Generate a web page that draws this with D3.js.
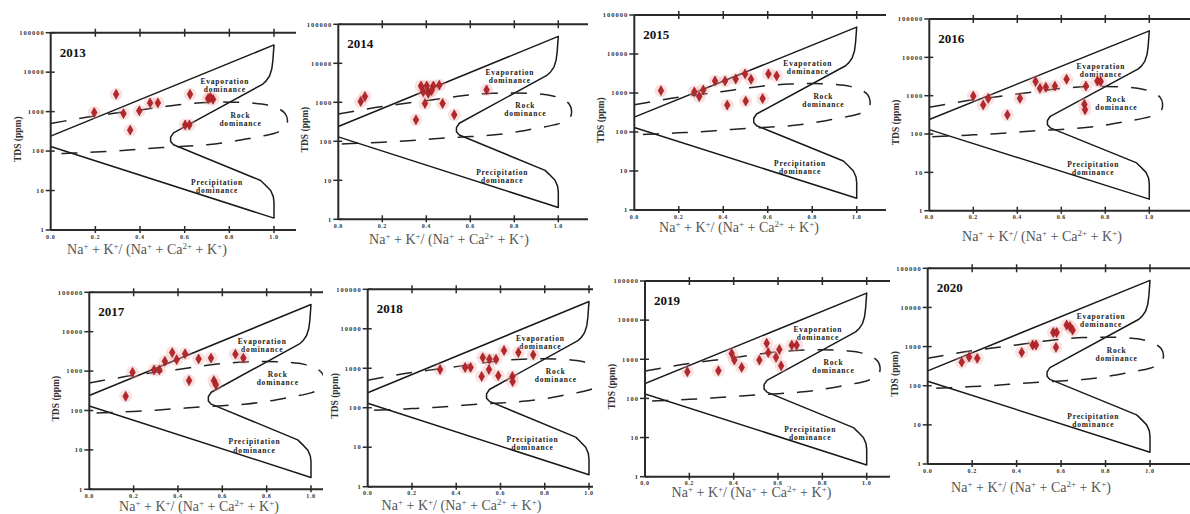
<!DOCTYPE html>
<html><head><meta charset="utf-8">
<script src="https://cdn.jsdelivr.net/npm/d3@7"></script>
<style>body{margin:0;background:#fff}svg{display:block}</style>
</head><body>
<svg id="c" width="1190" height="514"></svg>
<script>
// ---------- data ----------
const years = ["2013","2014","2015","2016","2017","2018","2019","2020"];
const xTicks = [0, 0.2, 0.4, 0.6, 0.8, 1.0];
const xTickLabels = ["0.0","0.2","0.4","0.6","0.8","1.0"];
const yTicks = [1, 10, 100, 1000, 10000, 100000];
const yTickLabels = ["1","10","100","1000","10000","100000"];

// [Na+K/(Na+Ca+K), TDS ppm]
const pts2013 = [[0.195,950],[0.293,2750],[0.326,890],[0.356,340],[0.397,1050],[0.445,1660],[0.48,1660],[0.624,2750],[0.602,460],[0.621,460],[0.705,2140],[0.727,2040],[0.715,2300]];
const pts2014 = [[0.102,1050],[0.121,1410],[0.353,355],[0.376,2630],[0.402,2630],[0.432,2630],[0.459,2750],[0.386,1860],[0.409,1700],[0.424,2000],[0.394,930],[0.474,930],[0.527,480],[0.674,2090]];
const pts2015 = [[0.12,1150],[0.27,1070],[0.292,810],[0.31,1200],[0.363,2040],[0.408,2040],[0.456,2290],[0.498,3090],[0.525,2240],[0.603,3090],[0.64,2750],[0.418,490],[0.501,620],[0.577,720]];
const pts2016 = [[0.2,980],[0.245,575],[0.268,850],[0.355,316],[0.412,850],[0.483,2340],[0.503,1550],[0.53,1660],[0.571,1780],[0.624,2690],[0.712,1780],[0.764,2400],[0.779,2340],[0.705,600],[0.708,430]];
const pts2017 = [[0.195,930],[0.164,230],[0.292,1070],[0.316,1070],[0.341,1780],[0.374,2950],[0.394,1950],[0.432,2750],[0.45,575],[0.493,2040],[0.549,2140],[0.562,575],[0.571,450],[0.659,2690],[0.695,2140]];
const pts2018 = [[0.327,930],[0.44,1050],[0.465,1050],[0.52,1860],[0.55,1700],[0.58,1700],[0.548,930],[0.515,620],[0.59,650],[0.616,2820],[0.681,2510],[0.748,2190],[0.654,620],[0.655,460]];
const pts2019 = [[0.191,480],[0.331,510],[0.391,1410],[0.403,955],[0.436,620],[0.516,955],[0.549,2570],[0.556,1480],[0.591,1120],[0.606,1780],[0.614,680],[0.662,2290],[0.684,2290]];
const pts2020 = [[0.153,400],[0.186,540],[0.223,500],[0.423,710],[0.472,1100],[0.487,1100],[0.565,2290],[0.58,2290],[0.577,955],[0.625,3550],[0.64,3240],[0.652,2630]];
const pointsByYear = [pts2013, pts2014, pts2015, pts2016, pts2017, pts2018, pts2019, pts2020];

// Gibbs boundary (outer envelope) and dashed rock-dominance boundary
const gibbsOuter = [[0,240],[1.0,49000],[0.995,20000],[0.99,12000],[0.98,8000],[0.965,6000],[0.95,5000],
  [0.55,290],[0.537,225],[0.537,175],[0.55,145],[0.94,18],[0.96,14],[0.985,10],[0.997,7],[1.0,5],[1.0,2],[0,130]];
const gibbsDashed = [[0,500],[0.1,630],[0.2,780],[0.3,930],[0.4,1100],[0.5,1320],[0.6,1550],[0.7,1700],[0.8,1740],
  [0.9,1660],[0.97,1480],[1.02,1200],[1.05,890],[1.06,630],[1.055,420],[1.03,330],[1.0,280],[0.9,215],[0.8,170],
  [0.7,145],[0.6,132],[0.5,123],[0.4,112],[0.3,102],[0.2,95],[0.1,89],[0,85]];
const regionText = [["Evaporation","dominance"],["Rock","dominance"],["Precipitation","dominance"]];
const regionAnchor = [[0.78,5800,3600],[0.85,820,510],[0.745,16,10]];

// ---------- layout (pixel geometry of each cropped panel) ----------
const layout = [
  {left:50.7, top:32.7, bottom:230,  x1:274,   clip:296, tx:147,  ty:254},
  {left:338.3,top:24.3, bottom:219.3,x1:558.3, clip:588, tx:449,  ty:244},
  {left:634.3,top:15,   bottom:210,  x1:856.7, clip:886, tx:739,  ty:232},
  {left:929.3,top:19,   bottom:210.7,x1:1149.3,clip:1190,tx:1042, ty:241},
  {left:89.3, top:292.3,bottom:489.3,x1:311,   clip:323, tx:199,  ty:511},
  {left:367.7,top:289.3,bottom:486.7,x1:589,   clip:593, tx:461.5,ty:510},
  {left:645,  top:281,  bottom:476.7,x1:866.7, clip:890, tx:751.5,ty:497},
  {left:927.7,top:268.3,bottom:464,  x1:1150,  clip:1190,tx:1031, ty:492}
];

const svg = d3.select("#c");
const serif = "'Liberation Serif','Times New Roman',serif";
const defs = svg.append("defs");

years.forEach((yr, i) => {
  const L = layout[i];
  const x = d3.scaleLinear().domain([0,1]).range([L.left, L.x1]);
  const y = d3.scaleLog().domain([1,100000]).range([L.bottom, L.top]);
  const g = svg.append("g");
  const cid = "clip" + i;
  defs.append("clipPath").attr("id", cid).append("rect")
    .attr("x", L.left).attr("y", L.top - 2).attr("width", L.clip - L.left).attr("height", L.bottom - L.top + 4);

  const line = d3.line().x(d => x(d[0])).y(d => y(d[1]));
  const inner = g.append("g").attr("clip-path", `url(#${cid})`);
  inner.append("path").datum(gibbsOuter).attr("d", line)
    .attr("fill","none").attr("stroke","#1a1a1a").attr("stroke-width",1.5).attr("stroke-linejoin","round");
  inner.append("path").datum(gibbsDashed).attr("d", d3.line().curve(d3.curveCatmullRom).x(d=>x(d[0])).y(d=>y(d[1])))
    .attr("fill","none").attr("stroke","#222").attr("stroke-width",1.5).attr("stroke-dasharray","16,13");

  // region labels
  regionText.forEach((t, k) => {
    const a = regionAnchor[k];
    [0,1].forEach(j => {
      g.append("text").attr("x", x(a[0])).attr("y", y(a[1+j])).attr("dy","0.35em")
        .attr("text-anchor","middle").attr("font-family",serif).attr("font-weight","bold")
        .attr("font-size",7.5).attr("letter-spacing",0.8).attr("fill","#222").text(t[j]);
    });
  });

  // points
  const pts = pointsByYear[i];
  g.append("g").selectAll("circle").data(pts).join("circle")
    .attr("cx", d => x(d[0])).attr("cy", d => y(d[1])).attr("r", 6.5)
    .attr("fill","#f2a0a0").attr("opacity",0.3);
  g.append("g").selectAll("path").data(pts).join("path")
    .attr("transform", d => `translate(${x(d[0])},${y(d[1])})`)
    .attr("d", d3.symbol(d3.symbolDiamond, 28)())
    .attr("fill","#b8252a").attr("stroke","#8a1c1c").attr("stroke-width",0.6);

  // axes
  const ax = g.append("g").attr("stroke","#2a2a2a").attr("stroke-width",2).attr("fill","none");
  ax.append("line").attr("x1",L.left).attr("x2",L.clip).attr("y1",L.top).attr("y2",L.top);
  ax.append("line").attr("x1",L.left).attr("x2",L.clip).attr("y1",L.bottom).attr("y2",L.bottom);
  ax.append("line").attr("x1",L.left).attr("x2",L.left).attr("y1",L.top).attr("y2",L.bottom);
  xTicks.forEach(t => {
    if (t === 0) return;
    ax.append("line").attr("x1",x(t)).attr("x2",x(t)).attr("y1",L.top-4).attr("y2",L.top+4).attr("stroke-width",1.5);
    ax.append("line").attr("x1",x(t)).attr("x2",x(t)).attr("y1",L.bottom-4).attr("y2",L.bottom+3).attr("stroke-width",1.5);
  });
  yTicks.forEach(t => {
    ax.append("line").attr("x1",L.left-5).attr("x2",L.left+4).attr("y1",y(t)).attr("y2",y(t)).attr("stroke-width",1.5);
  });
  yTicks.forEach((t, k) => {
    g.append("text").attr("x", L.left - 6).attr("y", y(t)).attr("dy","0.35em").attr("text-anchor","end")
      .attr("font-family",serif).attr("font-weight","bold").attr("font-size",6.5).attr("letter-spacing",1)
      .attr("fill","#333").text(yTickLabels[k]);
  });
  xTicks.forEach((t, k) => {
    g.append("text").attr("x", x(t)).attr("y", L.bottom + 8.5).attr("text-anchor","middle")
      .attr("font-family",serif).attr("font-weight","bold").attr("font-size",6).attr("letter-spacing",0.6)
      .attr("fill","#333").text(xTickLabels[k]);
  });

  // year label
  g.append("text").attr("x", L.left + 9).attr("y", L.top + 24).attr("font-family",serif)
    .attr("font-weight","bold").attr("font-size",13).attr("fill","#111").text(yr);

  // y axis title
  const ym = y(200);
  g.append("text").attr("transform",`translate(${L.left-30},${ym}) rotate(-90)`).attr("text-anchor","middle")
    .attr("font-family",serif).attr("font-weight","bold").attr("font-size",9.5).attr("fill","#333").text("TDS (ppm)");

  // x axis title with superscripts
  const xt = g.append("text").attr("x", L.tx).attr("y", L.ty).attr("text-anchor","middle")
    .attr("font-family",serif).attr("font-size",14).attr("fill","#555");
  const parts = [["Na",0],["+",1],[" + K",0],["+",1],["/ (Na",0],["+",1],[" + Ca",0],["2+",1],[" + K",0],["+",1],[")",0]];
  parts.forEach(p => {
    const ts = xt.append("tspan").text(p[0]);
    if (p[1]) ts.attr("baseline-shift","super").attr("font-size",9);
  });
});
</script>
</body></html>
